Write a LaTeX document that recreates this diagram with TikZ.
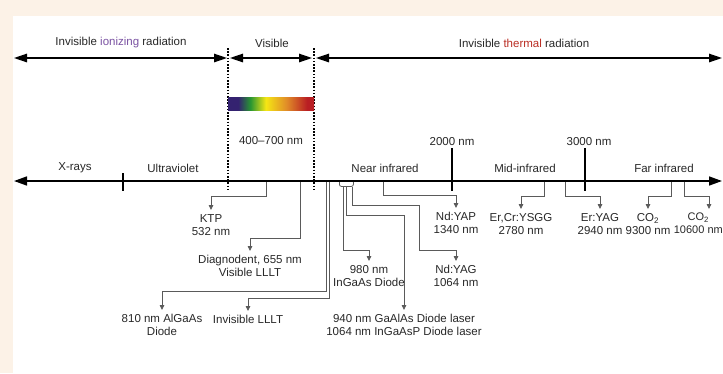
\documentclass[tikz,border=0pt]{standalone}
\usepackage{fontspec}
\setmainfont{Liberation Sans}
\usetikzlibrary{arrows.meta, positioning}
\definecolor{mybg}{RGB}{252,242,231}
\definecolor{mytext}{RGB}{40,40,40}
\definecolor{mygrey}{RGB}{90,90,90}
\definecolor{mypurple}{RGB}{122,82,162}
\definecolor{myred}{RGB}{186,46,36}
\definecolor{spindigo}{RGB}{52,34,112}
\definecolor{spgreen}{RGB}{40,150,50}
\definecolor{spyellow}{RGB}{245,230,20}
\definecolor{sporange}{RGB}{225,140,40}
\definecolor{spred}{RGB}{185,30,35}
\pgfdeclarehorizontalshading{spectrum}{100bp}{color(0bp)=(spindigo); color(31bp)=(spindigo);
  color(38bp)=(spgreen); color(47bp)=(spyellow); color(59bp)=(sporange);
  color(71bp)=(spred); color(100bp)=(spred)}
\tikzset{
  lbl/.style={font=\fontsize{11.5}{13}\selectfont, text=mytext, inner sep=1pt, align=center},
  laser/.style={lbl, anchor=north, inner ysep=4pt},
  bigarrow/.style={{Triangle[length=13pt,width=8.5pt]}-{Triangle[length=13pt,width=8.5pt]},
    line width=1.3pt, color=black},
  axisline/.style={{Triangle[length=13pt,width=9pt]}-{Triangle[length=13pt,width=9pt]},
    line width=1.6pt, color=black},
  tickline/.style={line width=1.5pt, color=black},
  sepline/.style={line width=1.2pt, dash pattern=on 1.6pt off 1.6pt, color=black},
  conn/.style={-{Triangle[length=5pt,width=4.5pt]}, draw=mygrey, line width=0.8pt},
  bracket/.style={draw=mygrey, line width=0.8pt, rounded corners=2pt, inner sep=0pt,
    minimum width=14pt, minimum height=6pt, anchor=north west}
}
\begin{document}
\begin{tikzpicture}[x=1pt, y=-1pt]
  % Background
  \useasboundingbox[fill=mybg] (0,0) rectangle (723,373);
  \fill[white] (13,16) rectangle (723,373);

  % Region boundaries
  \coordinate (uvtop) at (228,48);
  \coordinate (uvbot) at (228,190);
  \coordinate (irtop) at (314,48);
  \coordinate (irbot) at (314,190);
  \draw[sepline] (uvtop) -- (uvbot);
  \draw[sepline] (irtop) -- (irbot);

  % Top bands
  \coordinate (ionL) at (14,58);
  \coordinate (ionR) at (227,58);
  \coordinate (visL) at (230,58);
  \coordinate (visR) at (312,58);
  \coordinate (thL) at (316,58);
  \coordinate (thR) at (722,58);
  \draw[bigarrow] (ionL) -- (ionR);
  \draw[bigarrow] (visL) -- (visR);
  \draw[bigarrow] (thL) -- (thR);
  \node[lbl] (ion) at (121,43) {Invisible \textcolor{mypurple}{ionizing} radiation};
  \node[lbl] (vis) at (272,43) {Visible};
  \node[lbl] (therm) at (524,43) {Invisible \textcolor{myred}{thermal} radiation};

  % Visible spectrum
  \shade[shading=spectrum] (228,97) rectangle (314,110);
  \node[lbl] (range) at (271,141) {400--700 nm};

  % Lasers below the axis
  \coordinate (ktptap) at (266,181);
  \node[laser] (ktp) at (211,210) {KTP\\532 nm};
  \draw[conn] (ktptap) -- ++(0,15) -| (ktp.north);

  \coordinate (diagtap) at (300,181);
  \node[laser] (diag) at (250,251) {Diagnodent, 655 nm\\Visible LLLT};
  \draw[conn] (diagtap) -- ++(0,57) -| (diag.north);

  \coordinate (algatap) at (326,181);
  \node[laser] (alga) at (162,310) {810 nm AlGaAs\\Diode};
  \draw[conn] (algatap) -- ++(0,110) -| (alga.north);

  \coordinate (illlttap) at (329,181);
  \node[laser] (illlt) at (248,311) {Invisible LLLT};
  \draw[conn] (illlttap) -- ++(0,117) -| (illlt.north);

  \node[bracket] (diodes) at (339,180) {};
  \node[laser] (ingaas) at (369,261) {980 nm\\InGaAs Diode};
  \draw[conn] ([xshift=-3pt]diodes.south) -- ++(0,64) -| (ingaas.north);
  \node[laser] (gaalas) at (404,310) {940 nm GaAlAs Diode laser\\1064 nm InGaAsP Diode laser};
  \draw[conn] (diodes.south) -- ++(0,29) -| (gaalas.north);
  \node[laser] (ndyag) at (456,261) {Nd:YAG\\1064 nm};
  \draw[conn] ([xshift=6pt]diodes.south) -- ++(0,19) -- ++(67,0) -- ++(0,45) -| (ndyag.north);

  \coordinate (ndyaptap) at (383,181);
  \node[laser] (ndyap) at (456,208) {Nd:YAP\\1340 nm};
  \draw[conn] (ndyaptap) -- ++(0,14) -| (ndyap.north);

  \coordinate (ercrtap) at (544,181);
  \node[laser] (ercr) at (521,209) {Er,Cr:YSGG\\2780 nm};
  \draw[conn] (ercrtap) -- ++(0,15) -| (ercr.north);

  \coordinate (eryagtap) at (565,181);
  \node[laser] (eryag) at (600,209) {Er:YAG\\2940 nm};
  \draw[conn] (eryagtap) -- ++(0,15) -| (eryag.north);

  \coordinate (coatap) at (671,181);
  \node[laser] (coa) at (648,209) {CO\textsubscript{2}\\9300 nm};
  \draw[conn] (coatap) -- ++(0,15) -| (coa.north);

  \coordinate (cobtap) at (684,181);
  \coordinate (cobend) at (709,209);
  \node[laser, anchor=north east, inner xsep=0pt, font=\fontsize{11}{13}\selectfont]
    (cob) at (723,209) {CO\textsubscript{2}\\10600 nm};
  \draw[conn] (cobtap) -- ++(0,15) -| (cobend);

  % Wavelength axis
  \coordinate (axL) at (14,181);
  \coordinate (axR) at (722,181);
  \draw[axisline] (axL) -- (axR);
  \coordinate (xuv) at (123,173);
  \draw[tickline] (xuv) -- ++(0,18);
  \coordinate (t2k) at (452,148);
  \draw[tickline] (t2k) -- ++(0,43);
  \node[lbl, above=1pt of t2k] (l2k) {2000 nm};
  \coordinate (t3k) at (585,148);
  \draw[tickline] (t3k) -- ++(0,43);
  \node[lbl, above=1pt of t3k, xshift=4pt] (l3k) {3000 nm};

  % Regions
  \node[lbl] (xray) at (75,168) {X-rays};
  \node[lbl] (uv) at (173,168) {Ultraviolet};
  \node[lbl] (nir) at (385,168) {Near infrared};
  \node[lbl] (mir) at (525,168) {Mid-infrared};
  \node[lbl] (fir) at (664,168) {Far infrared};
\end{tikzpicture}
\end{document}
